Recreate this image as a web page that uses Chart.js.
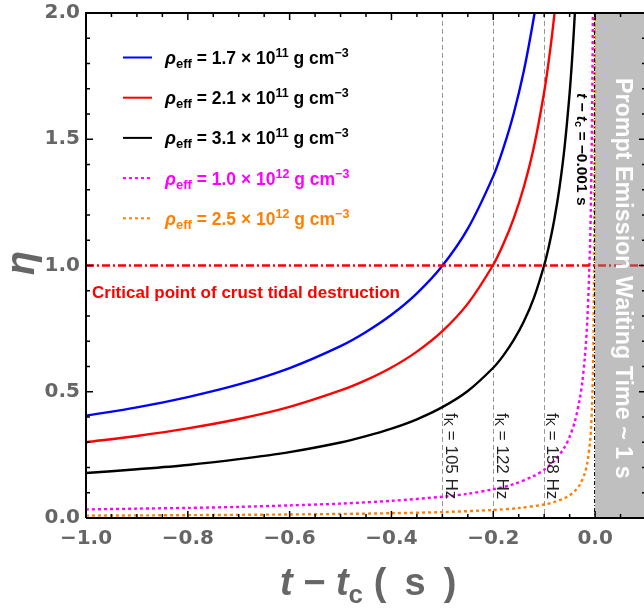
<!DOCTYPE html>
<html>
<head>
<meta charset="utf-8">
<script src="https://cdn.jsdelivr.net/npm/chart.js@4.4.1/dist/chart.umd.min.js"></script>
<style>
  html, body { margin: 0; padding: 0; background: #fff; overflow: hidden; width: 644px; height: 608px; }
  canvas { display: block; }
</style>
</head>
<body>
<canvas id="grafiek" width="648" height="608" style="width:648px;height:608px"></canvas>
<script>
// tijd t - tc (s) en eta per kromme
const tBlue = [-1.0, -0.9, -0.8, -0.7, -0.6, -0.5, -0.45, -0.4, -0.35, -0.3, -0.25, -0.2, -0.18, -0.16, -0.14, -0.12, -0.11, -0.1];
const etaBlue = [0.405, 0.438, 0.479, 0.529, 0.594, 0.681, 0.737, 0.805, 0.890, 0.999, 1.146, 1.354, 1.466, 1.601, 1.770, 1.986, 2.121, 2.277];

const tRed = [-1.0, -0.9, -0.8, -0.7, -0.6, -0.5, -0.45, -0.4, -0.35, -0.3, -0.25, -0.2, -0.18, -0.16, -0.14, -0.12, -0.1, -0.09, -0.08, -0.07];
const etaRed = [0.300, 0.325, 0.355, 0.392, 0.440, 0.505, 0.546, 0.596, 0.659, 0.740, 0.849, 1.003, 1.086, 1.186, 1.311, 1.471, 1.687, 1.826, 1.994, 2.205];

const tBlack = [-1.0, -0.9, -0.8, -0.7, -0.6, -0.5, -0.45, -0.4, -0.35, -0.3, -0.25, -0.2, -0.18, -0.16, -0.14, -0.12, -0.1, -0.09, -0.08, -0.07, -0.06, -0.05, -0.045, -0.04, -0.035];
const etaBlack = [0.178, 0.193, 0.210, 0.233, 0.261, 0.299, 0.324, 0.354, 0.391, 0.439, 0.503, 0.595, 0.644, 0.704, 0.778, 0.873, 1.001, 1.083, 1.183, 1.308, 1.468, 1.683, 1.822, 1.990, 2.200];

const tMagenta = [-1.0, -0.9, -0.8, -0.7, -0.6, -0.5, -0.4, -0.3, -0.25, -0.2, -0.16, -0.12, -0.1, -0.08, -0.06, -0.05, -0.04, -0.03, -0.025, -0.02, -0.015, -0.01, -0.008, -0.006, -0.005, -0.004];
const etaMagenta = [0.034, 0.037, 0.040, 0.044, 0.050, 0.057, 0.068, 0.084, 0.096, 0.114, 0.134, 0.167, 0.191, 0.226, 0.280, 0.322, 0.380, 0.472, 0.541, 0.639, 0.793, 1.075, 1.271, 1.577, 1.808, 2.138];

const tOrange = [-1.0, -0.8, -0.6, -0.5, -0.4, -0.3, -0.2, -0.15, -0.1, -0.08, -0.06, -0.05, -0.04, -0.03, -0.02, -0.015, -0.01, -0.008, -0.006, -0.005, -0.004, -0.003, -0.002, -0.0015, -0.001, -0.0008, -0.0007];
const etaOrange = [0.0095, 0.0112, 0.0139, 0.0160, 0.0189, 0.0234, 0.0318, 0.0394, 0.0534, 0.0632, 0.0784, 0.0898, 0.1062, 0.1318, 0.1786, 0.2216, 0.3004, 0.3551, 0.4407, 0.5052, 0.5973, 0.7412, 1.004, 1.246, 1.689, 1.997, 2.208];

// legenda: dichtheid en exponent
const rhoValues = ['1.7', '2.1', '3.1', '1.0', '2.5'];
const rhoExps = ['11', '11', '11', '12', '12'];
const seriesColors = ['#0000ff', '#ff0000', '#000000', '#ff00ff', '#ff8000'];
const seriesDotted = [false, false, false, true, true];
const textColors = ['#000000', '#000000', '#000000', '#ff00ff', '#ff8000'];

// verticale hulplijnen (f_K) en de kritische lijn
const fkTimes = [-0.3, -0.2, -0.1];
const fkLabels = ['105', '122', '158'];
const etaCritical = 1.0;
const tMarker = -0.001;
const promptStart = 0.0;

const xTicks = [-1.0, -0.8, -0.6, -0.4, -0.2, 0.0];
const yTicks = [0.0, 0.5, 1.0, 1.5, 2.0];

const FONT = '"Liberation Sans", Arial, sans-serif';
const TICKFONT = '"DejaVu Sans", sans-serif';
const GRAY = '#666666';

function pts(xs, ys) {
    return xs.map((x, i) => ({ x: x, y: ys[i] }));
}

function fmt(v) {
    return (v < 0 ? '\u2212' : '') + Math.abs(v).toFixed(1);
}

// tekst met sub- en superscript: [tekst, grootte, stijl, dy]
function drawRich(ctx, parts, x, y) {
    let cx = x;
    parts.forEach(p => {
        ctx.font = p[2] + ' ' + p[1] + 'px ' + FONT;
        ctx.fillText(p[0], cx, y + (p[3] || 0));
        cx += ctx.measureText(p[0]).width;
    });
    return cx - x;
}

const allT = [tBlue, tRed, tBlack, tMagenta, tOrange];
const allEta = [etaBlue, etaRed, etaBlack, etaMagenta, etaOrange];

const datasets = allT.map((ts, i) => ({
    data: pts(ts, allEta[i]),
    showLine: true,
    borderColor: seriesColors[i],
    borderWidth: 2.4,
    borderDash: seriesDotted[i] ? [3, 3] : [],
    pointRadius: 0,
    tension: 0.3,
    fill: false
}));

const overlay = {
    id: 'overlay',
    beforeDatasetsDraw(chart) {
        const ctx = chart.ctx, a = chart.chartArea, xs = chart.scales.x;
        ctx.save();
        ctx.strokeStyle = '#999999';
        ctx.lineWidth = 1;
        ctx.setLineDash([5, 3]);
        fkTimes.forEach(t => {
            const px = Math.round(xs.getPixelForValue(t)) + 0.5;
            ctx.beginPath();
            ctx.moveTo(px, a.top);
            ctx.lineTo(px, a.bottom);
            ctx.stroke();
        });
        ctx.restore();
    },
    afterDatasetsDraw(chart) {
        const ctx = chart.ctx, a = chart.chartArea, xs = chart.scales.x, ys = chart.scales.y;
        ctx.save();

        // zwarte streep-punt lijn bij t - tc = -0.001 s
        const mx = xs.getPixelForValue(tMarker);
        ctx.strokeStyle = '#000';
        ctx.lineWidth = 1;
        ctx.setLineDash([4, 2, 1, 2]);
        ctx.beginPath();
        ctx.moveTo(mx, a.top);
        ctx.lineTo(mx, a.bottom);
        ctx.stroke();

        // kritische lijn eta = 1
        const cy = ys.getPixelForValue(etaCritical);
        ctx.strokeStyle = '#ff0000';
        ctx.lineWidth = 2.4;
        ctx.setLineDash([8, 3, 2, 3]);
        ctx.beginPath();
        ctx.moveTo(a.left, cy);
        ctx.lineTo(a.right, cy);
        ctx.stroke();
        ctx.setLineDash([]);

        // grijs gebied prompt emission
        const gx = xs.getPixelForValue(promptStart);
        ctx.fillStyle = 'rgba(128,128,128,0.5)';
        ctx.fillRect(gx, a.top, a.right - gx, a.bottom - a.top);

        // legenda
        ctx.textBaseline = 'alphabetic';
        ctx.textAlign = 'left';
        for (let i = 0; i < rhoValues.length; i++) {
            const ly = 57.5 + i * 40.2;
            ctx.strokeStyle = seriesColors[i];
            ctx.lineWidth = 2;
            ctx.setLineDash(seriesDotted[i] ? [3, 3] : []);
            ctx.beginPath();
            ctx.moveTo(123, ly);
            ctx.lineTo(152, ly);
            ctx.stroke();
            ctx.setLineDash([]);
            ctx.fillStyle = textColors[i];
            drawRich(ctx, [
                ['\u03C1', 18, 'italic bold', 0],
                ['eff', 13, 'bold', 4],
                [' = ' + rhoValues[i] + ' \u00D7 10', 17.5, 'bold', 0],
                [rhoExps[i], 12.5, 'bold', -7],
                [' g cm', 17.5, 'bold', 0],
                ['\u22123', 12.5, 'bold', -7]
            ], 165, ly + 6.5);
        }

        // tekst bij de kritische lijn
        ctx.fillStyle = '#ff0000';
        ctx.font = 'bold 17px ' + FONT;
        ctx.fillText('Critical point of crust tidal destruction', 92, cy + 32);

        // f_K labels
        ctx.fillStyle = '#222222';
        ctx.textBaseline = 'middle';
        fkTimes.forEach((t, i) => {
            const px = xs.getPixelForValue(t);
            ctx.save();
            ctx.translate(px + 8, 413);
            ctx.rotate(Math.PI / 2);
            drawRich(ctx, [
                ['f', 17, 'normal', 0],
                ['K', 12.5, 'normal', 3],
                [' = ' + fkLabels[i] + ' Hz', 17, 'normal', 0]
            ], 0, 0);
            ctx.restore();
        });

        // t - tc = -0.001 s
        ctx.fillStyle = '#000';
        ctx.save();
        ctx.translate(581, 93);
        ctx.rotate(Math.PI / 2);
        drawRich(ctx, [
            ['t', 15.5, 'italic bold', 0],
            [' \u2212 ', 15.5, 'bold', 0],
            ['t', 15.5, 'italic bold', 0],
            ['c', 11, 'bold', 3],
            [' = \u22120.001 s', 15.5, 'bold', 0]
        ], 0, 0);
        ctx.restore();

        // Prompt Emission tekst
        ctx.fillStyle = '#ffffff';
        ctx.save();
        ctx.translate(622, 78);
        ctx.rotate(Math.PI / 2);
        ctx.font = 'bold 23.3px ' + FONT;
        ctx.fillText('Prompt Emission Waiting Time ~ 1 s', 0, 0);
        ctx.restore();

        // kader en tickmarks (naar binnen)
        ctx.strokeStyle = '#000';
        ctx.lineWidth = 2;
        ctx.beginPath();
        ctx.moveTo(a.left, a.bottom);
        ctx.lineTo(a.left, a.top);
        ctx.lineTo(a.right, a.top);
        ctx.lineTo(a.right, a.bottom);
        ctx.lineTo(a.left, a.bottom);
        ctx.stroke();
        ctx.lineWidth = 1.5;
        ctx.beginPath();
        for (let k = 0; k <= 22; k++) {
            const v = -1 + k * 0.05;
            const len = (k % 4 === 0) ? 7 : 4;
            const px = xs.getPixelForValue(v);
            ctx.moveTo(px, a.bottom); ctx.lineTo(px, a.bottom - len);
            ctx.moveTo(px, a.top); ctx.lineTo(px, a.top + len);
        }
        for (let k = 0; k <= 20; k++) {
            const v = k * 0.1;
            const len = (k % 5 === 0) ? 7 : 4;
            const py = ys.getPixelForValue(v);
            ctx.moveTo(a.left, py); ctx.lineTo(a.left + len, py);
            ctx.moveTo(a.right, py); ctx.lineTo(a.right - len, py);
        }
        ctx.stroke();

        // astitels
        ctx.fillStyle = GRAY;
        ctx.textBaseline = 'alphabetic';
        drawRich(ctx, [
            ['t', 38, 'italic bold', 0],
            [' \u2212 ', 38, 'bold', 0],
            ['t', 38, 'italic bold', 0],
            ['c', 26, 'bold', 8],
            [' ( \u2009s\u2009 )', 38, 'bold', 0]
        ], 280, 595);

        ctx.save();
        ctx.translate(34, 263);
        ctx.rotate(-Math.PI / 2);
        ctx.textAlign = 'center';
        ctx.font = 'italic bold 40px ' + FONT;
        ctx.fillText('\u03B7', 0, 0);
        ctx.restore();

        ctx.restore();
    }
};

new Chart(document.getElementById('grafiek').getContext('2d'), {
    type: 'scatter',
    data: { datasets: datasets },
    options: {
        responsive: false,
        animation: false,
        layout: { padding: { top: 13, right: 2, left: 0, bottom: 0 } },
        plugins: { legend: { display: false }, tooltip: { enabled: false } },
        scales: {
            x: {
                type: 'linear',
                min: -1.0,
                max: 0.1,
                grid: { display: false, drawTicks: false },
                border: { display: false },
                ticks: {
                    color: GRAY,
                    font: { family: TICKFONT, size: 20, weight: 'bold' },
                    padding: 9,
                    maxRotation: 0,
                    callback: v => fmt(v)
                },
                afterBuildTicks: s => { s.ticks = xTicks.map(v => ({ value: v })); },
                afterFit: s => { s.height = 90; s.paddingLeft = 0; s.paddingRight = 0; }
            },
            y: {
                min: 0,
                max: 2,
                grid: { display: false, drawTicks: false },
                border: { display: false },
                ticks: {
                    color: GRAY,
                    font: { family: TICKFONT, size: 20, weight: 'bold' },
                    padding: 6,
                    callback: v => fmt(v)
                },
                afterBuildTicks: s => { s.ticks = yTicks.map(v => ({ value: v })); },
                afterFit: s => { s.width = 86; s.paddingTop = 0; s.paddingBottom = 0; }
            }
        }
    },
    plugins: [overlay]
});
</script>
</body>
</html>
